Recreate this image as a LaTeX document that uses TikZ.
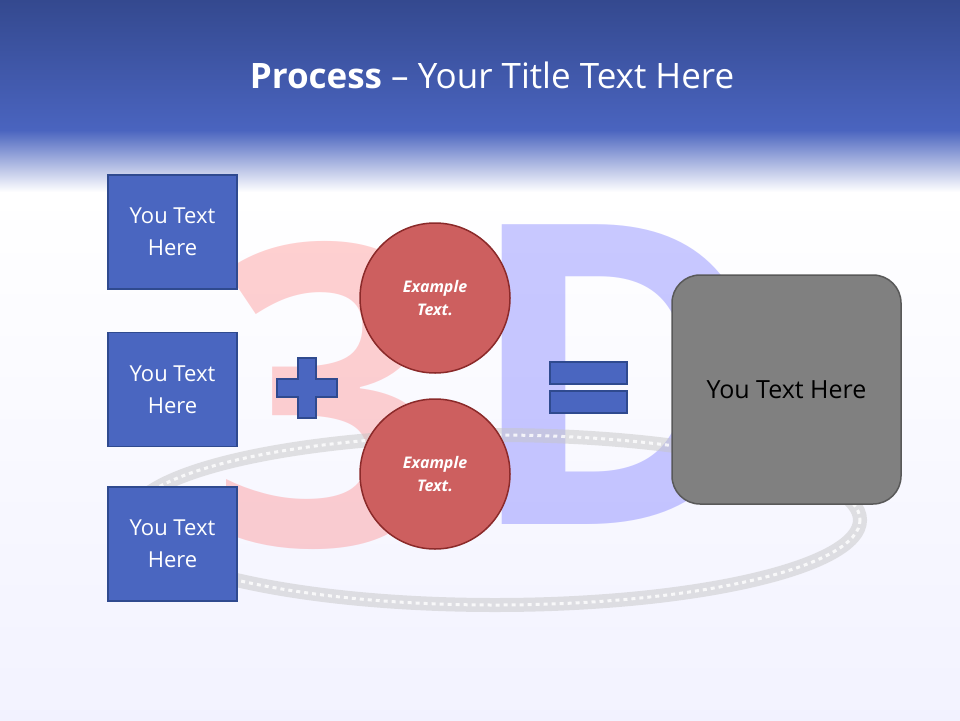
\documentclass[tikz,border=0pt]{standalone}
\usepackage{fontspec}
\setmainfont{Open Sans}
\usetikzlibrary{shapes.geometric}
\definecolor{hdtop}{HTML}{34498F}
\definecolor{hdbot}{HTML}{4A64BF}
\definecolor{boxf}{HTML}{4A66C0}
\definecolor{boxd}{HTML}{2F4A8F}
\definecolor{cirf}{HTML}{CD5F5F}
\definecolor{cird}{HTML}{8B2A2A}
\tikzset{
 bluebox/.style={draw=boxd,line width=1.2pt,fill=boxf,minimum width=129pt,minimum height=114pt,text=white,font=\fontsize{22}{32}\selectfont,align=center,inner sep=0pt},
 redcirc/.style={circle,draw=cird,line width=1.5pt,fill=cirf,minimum size=150pt,text=white,font=\bfseries\itshape\fontsize{16}{23}\selectfont,align=center},
 symb/.style={draw=boxd,line width=1.2pt,fill=boxf}
}
\begin{document}
\begin{tikzpicture}[x=1pt,y=-1pt]
\useasboundingbox (0,0) rectangle (960,720);
\fill[white] (0,0) rectangle (960,720);
\fill[top color=white,bottom color=white!95!blue] (0,190) rectangle (960,720);
% faint background 3D + film
\node[text=red!60!white,opacity=0.3,font=\bfseries\fontsize{420}{420}\selectfont] (three) at (330,395) {3};
\node[text=blue!70!white,opacity=0.3,font=\bfseries\fontsize{420}{420}\selectfont] (dee) at (620,375) {D};
\draw[gray!45,line width=14pt,opacity=0.5] (495,520) ellipse (365 and 85);
\draw[white,line width=3pt,dash pattern=on 4pt off 4pt,opacity=0.8] (495,520) ellipse (365 and 85);
% header
\fill[top color=hdtop,bottom color=hdbot] (0,0) rectangle (960,130);
\fill[top color=hdbot,bottom color=white] (0,130) rectangle (960,192);
\node[text=white,font=\fontsize{35}{40}\selectfont] (title) at (492,75) {\textbf{Process} – Your Title Text Here};
% boxes
\node[bluebox] (b1) at (172.5,232) {You Text\\Here};
\node[bluebox] (b2) at (172.5,389.5) {You Text\\Here};
\node[bluebox] (b3) at (172.5,544) {You Text\\Here};
\node[redcirc] (c1) at (435,298) {Example\\Text.};
\node[redcirc] (c2) at (435,474) {Example\\Text.};
\node[draw=black!65,line width=1.5pt,fill=black!50,rounded corners=28pt,minimum width=229pt,minimum height=229pt,font=\fontsize{25}{30}\selectfont] (res) at (786.5,389.5) {You Text Here};
% plus
\draw[symb] (298,358) -- (316,358) -- (316,379) -- (337,379) -- (337,397) -- (316,397) -- (316,418) -- (298,418) -- (298,397) -- (277,397) -- (277,379) -- (298,379) -- cycle;
% equals
\draw[symb] (550,362) rectangle (627,384);
\draw[symb] (550,391) rectangle (627,413);
\end{tikzpicture}
\end{document}
